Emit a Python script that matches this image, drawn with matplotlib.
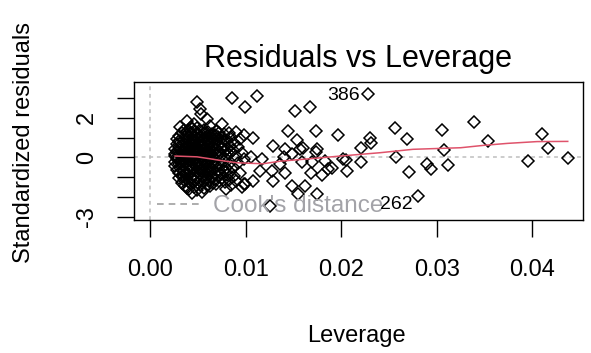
import numpy as np
import matplotlib.pyplot as plt

plt.rcParams['font.family'] = ['Liberation Sans', 'DejaVu Sans']

# dense cluster (low leverage)
lev_cluster = [
    0.0026, 0.0026, 0.0026, 0.0026, 0.0026,
    0.0028, 0.0028, 0.0028, 0.0028, 0.0028, 0.0028,
    0.0030, 0.0030, 0.0030, 0.0030, 0.0030, 0.0030, 0.0030,
    0.0031, 0.0031, 0.0031, 0.0031, 0.0031,
    0.0033, 0.0033, 0.0033, 0.0033, 0.0033, 0.0033, 0.0033, 0.0033,
    0.0035, 0.0035, 0.0035, 0.0035, 0.0035, 0.0035, 0.0035, 0.0035,
    0.0036, 0.0036, 0.0036, 0.0036, 0.0036, 0.0036,
    0.0038, 0.0038, 0.0038, 0.0038, 0.0038, 0.0038, 0.0038, 0.0038, 0.0038,
    0.0039, 0.0039, 0.0039, 0.0039, 0.0039, 0.0039,
    0.0041, 0.0041, 0.0041, 0.0041, 0.0041, 0.0041, 0.0041, 0.0041,
    0.0043, 0.0043, 0.0043, 0.0043, 0.0043, 0.0043, 0.0043, 0.0043, 0.0043,
    0.0044, 0.0044, 0.0044, 0.0044, 0.0044, 0.0044,
    0.0046, 0.0046, 0.0046, 0.0046, 0.0046, 0.0046, 0.0046, 0.0046, 0.0046,
    0.0047, 0.0047, 0.0047, 0.0047, 0.0047, 0.0047,
    0.0049, 0.0049, 0.0049, 0.0049, 0.0049, 0.0049, 0.0049, 0.0049, 0.0049,
    0.0050, 0.0050, 0.0050, 0.0050, 0.0050, 0.0050, 0.0050,
    0.0052, 0.0052, 0.0052, 0.0052, 0.0052, 0.0052, 0.0052, 0.0052,
    0.0053, 0.0053, 0.0053, 0.0053, 0.0053, 0.0053, 0.0053,
    0.0054, 0.0054, 0.0054, 0.0054, 0.0054, 0.0054,
    0.0056, 0.0056, 0.0056, 0.0056, 0.0056, 0.0056, 0.0056, 0.0056,
    0.0057, 0.0057, 0.0057, 0.0057, 0.0057, 0.0057,
    0.0059, 0.0059, 0.0059, 0.0059, 0.0059, 0.0059, 0.0059, 0.0059,
    0.0060, 0.0060, 0.0060, 0.0060, 0.0060, 0.0060,
    0.0062, 0.0062, 0.0062, 0.0062, 0.0062, 0.0062, 0.0062,
    0.0063, 0.0063, 0.0063, 0.0063, 0.0063, 0.0063,
    0.0065, 0.0065, 0.0065, 0.0065, 0.0065, 0.0065,
    0.0066, 0.0066, 0.0066, 0.0066, 0.0066,
    0.0068, 0.0068, 0.0068, 0.0068, 0.0068, 0.0068,
    0.0069, 0.0069, 0.0069, 0.0069, 0.0069,
    0.0071, 0.0071, 0.0071, 0.0071, 0.0071,
    0.0072, 0.0072, 0.0072, 0.0072,
    0.0074, 0.0074, 0.0074, 0.0074,
    0.0075, 0.0075, 0.0075, 0.0075,
    0.0077, 0.0077, 0.0077, 0.0077,
    0.0078, 0.0078, 0.0078,
    0.0079, 0.0079, 0.0079,
    0.0080, 0.0080, 0.0080,
    0.0082, 0.0082, 0.0082, 0.0082,
    0.0084, 0.0084,
    0.0085, 0.0085, 0.0085,
    0.0087, 0.0087,
    0.0088, 0.0088,
    0.0090, 0.0090, 0.0090,
    0.0092, 0.0092,
    0.0094, 0.0094,
    0.0096, 0.0096,
    0.0098, 0.0098, 0.0098,
]
res_cluster = [
    0.07, 0.41, -0.22, 0.18, -0.45,
    0.66, -0.10, 0.30, -0.62, 0.95, 0.02,
    -0.35, 0.52, 1.10, -0.78, 0.15, -1.02, 0.85,
    1.54, -0.20, 0.40, -0.55, 0.72,
    -0.95, 0.25, -0.12, 0.60, 1.25, -1.30, 0.05, -0.40,
    -0.95, 0.88, -0.68, 0.33, 1.40, -0.18, 0.12, -1.15,
    0.50, -0.30, 1.02, -0.82, 0.20, -1.45,
    -1.54, 0.75, -0.05, 0.42, -0.60, 1.18, 0.95, -1.10, 0.10,
    1.84, -0.25, 0.58, -0.88, 1.35, 0.00,
    0.30, -1.25, 0.82, -0.45, 1.05, -0.70, 0.15, -1.60,
    1.55, -0.12, 0.48, -1.00, 0.68, -0.38, 1.22, -1.35, 0.22,
    -0.58, 0.90, -1.78, 0.35, 0.05, 1.45,
    1.71, -0.20, 0.62, -0.92, 1.10, -1.48, 0.38, -0.65, 0.10,
    0.80, -1.20, 0.25, -0.40, 1.30, -0.05,
    2.81, 0.45, -0.75, 1.00, -1.05, 0.18, -0.30, 1.50, -1.62,
    0.70, -0.15, 0.95, -0.55, 1.20, -1.30, 0.30,
    2.47, 0.55, -0.85, 0.12, -1.40, 1.05, -0.25, 0.80,
    2.18, -0.60, 0.35, -1.10, 1.35, -0.02, 0.62,
    -1.76, 0.90, -0.35, 0.20, -0.95, 1.15,
    0.48, -1.25, 1.40, -0.10, 0.75, -0.70, 0.05, -1.55,
    1.00, -0.45, 0.28, -0.88, 1.25, -1.15,
    1.93, 0.40, -0.60, 0.85, -1.00, 0.10, -0.30, 1.10,
    -1.40, 0.60, -0.20, 1.30, -0.75, 0.22,
    0.95, -0.50, 0.35, -1.20, 0.70, -0.05, -0.90,
    1.59, 0.15, -0.65, 1.05, -1.45, 0.50,
    0.80, -0.25, 0.30, -1.05, 1.20, -0.60,
    -1.30, 0.55, 1.00, -0.40, 0.05,
    0.40, -0.80, 1.15, -0.15, 0.75, -1.10,
    -0.50, 0.95, 0.20, -1.35, 1.35,
    0.62, -0.30, -0.95, 1.05, 0.10,
    -0.65, 0.35, 1.25, -1.20,
    0.80, -0.40, 0.05, -0.85,
    1.68, 0.45, -1.05, 1.00,
    -0.20, 0.65, -0.70, 1.20,
    0.30, -1.25, 0.90,
    -1.59, 0.10, -0.55,
    0.86, -0.90, 0.45,
    1.25, -0.35, 0.15, -1.15,
    0.60, -0.75,
    -1.40, 1.05, 0.25,
    0.40, -0.50,
    -0.95, 0.75,
    0.05, 1.30, -1.20,
    -0.30, 0.55,
    0.95, -0.80,
    -1.50, 0.20,
    -0.09, 1.15, -1.35,
]

# sparser points at higher leverage
lev_sparse = [
    0.0086, 0.0099, 0.0112, 0.0125, 0.0108, 0.0128, 0.0152, 0.0167,
    0.0144, 0.0174, 0.0197, 0.0154, 0.0141, 0.0157, 0.0175, 0.0148,
    0.0159, 0.0169, 0.0183, 0.0202, 0.0186, 0.0136, 0.0127, 0.0141,
    0.0129, 0.0148, 0.0162, 0.0155, 0.0175, 0.0115, 0.0108, 0.0099,
    0.0117, 0.0105, 0.0168, 0.0180, 0.0190, 0.0173, 0.0140, 0.0160,
    0.0228, 0.0256, 0.0269, 0.0305, 0.0230, 0.0231, 0.0221, 0.0221,
    0.0257, 0.0271, 0.0290, 0.0294, 0.0307, 0.0312, 0.0280, 0.0206,
    0.0205, 0.0339, 0.0354, 0.0395, 0.0410, 0.0416, 0.0437,
]
res_sparse = [
    2.98, 2.55, 3.10, -2.44, 1.00, 0.58, 2.36, 2.57,
    1.32, 1.36, 1.15, 0.88, 0.42, 0.42, 0.42, 0.17,
    -0.25, -0.25, -0.17, -0.09, -0.56, -0.34, -0.68, -0.81,
    -1.18, -1.44, -1.44, -1.83, -1.83, -0.68, -1.18, -1.35,
    -0.09, 0.00, -0.81, -0.88, -0.51, 0.25, 0.00, 0.48,
    3.20, 1.47, 0.93, 1.39, 1.00, 0.75, 0.46, -0.25,
    0.00, -0.76, -0.34, -0.56, 0.37, -0.37, -1.94, -0.68,
    -0.15, 1.78, 0.85, -0.17, 1.18, 0.46, -0.05,
]

# smoother (red line)
smooth_lev = [0.0026, 0.0049, 0.0063, 0.0073, 0.0091, 0.0118, 0.0136, 0.0171,
              0.0199, 0.0241, 0.0275, 0.0325, 0.0349, 0.0374, 0.0405, 0.0437]
smooth_res = [0.07, 0.03, -0.07, -0.15, -0.27, -0.32, -0.19, -0.05,
              0.07, 0.24, 0.41, 0.49, 0.61, 0.71, 0.80, 0.81]

x_ticks = [0.00, 0.01, 0.02, 0.03, 0.04]
x_labels = ['0.00', '0.01', '0.02', '0.03', '0.04']
y_ticks = [-3, -2, -1, 0, 1, 2, 3]
y_labels = ['-3', '', '', '0', '', '2', '']

lev = lev_cluster + lev_sparse
res = res_cluster + res_sparse

fig = plt.figure(figsize=(5.91, 3.53), dpi=100)
ax = fig.add_axes([0.2267, 0.3768, 0.7598, 0.3909])

ax.axhline(0, color='#bebebe', lw=1.1, ls=(0, (2.5, 2.5)), zorder=1)
ax.axvline(0, color='#bebebe', lw=1.1, ls=(0, (2.5, 2.5)), zorder=1)

ax.plot(lev, res, ls='none', marker='D', ms=6.0, mfc='none', mec='black',
        mew=1.1, zorder=2)
ax.plot(smooth_lev, smooth_res, color='#DF536B', lw=1.1, zorder=3)

# labelled points
ax.annotate('386', xy=(0.0228, 3.20), xytext=(-6, -1), textcoords='offset points',
            ha='right', va='center', fontsize=14)
ax.annotate('262', xy=(0.0280, -1.94), xytext=(-4, -6), textcoords='offset points',
            ha='right', va='center', fontsize=14)

# Cook's distance legend
ax.plot([0.0007, 0.0052], [-2.35, -2.35], color='#a0a0a0', lw=1.2, ls=(0, (4, 3)))
ax.text(0.0066, -2.45, "Cook's distance", color='#a3a3a8', fontsize=17.5,
        ha='left', va='center')

ax.set_xlim(-0.0017, 0.0453)
ax.set_ylim(-3.16, 3.81)
ax.set_xticks(x_ticks)
ax.set_xticklabels(x_labels, fontsize=17)
ax.set_yticks(y_ticks)
ax.set_yticklabels(y_labels, fontsize=17, rotation=90, va='center')
ax.tick_params(axis='both', length=12, width=1, color='black')
ax.tick_params(axis='x', pad=16)
ax.tick_params(axis='y', pad=14)
for s in ax.spines.values():
    s.set_linewidth(1)
    s.set_color('black')

fig.text(0.606, 0.810, 'Residuals vs Leverage', fontsize=22, ha='center', va='baseline')
fig.text(0.603, 0.049, 'Leverage', fontsize=17, ha='center', va='center')
fig.text(0.041, 0.597, 'Standardized residuals', fontsize=17, ha='center',
         va='center', rotation=90)

fig.savefig('out.png', dpi=100)
